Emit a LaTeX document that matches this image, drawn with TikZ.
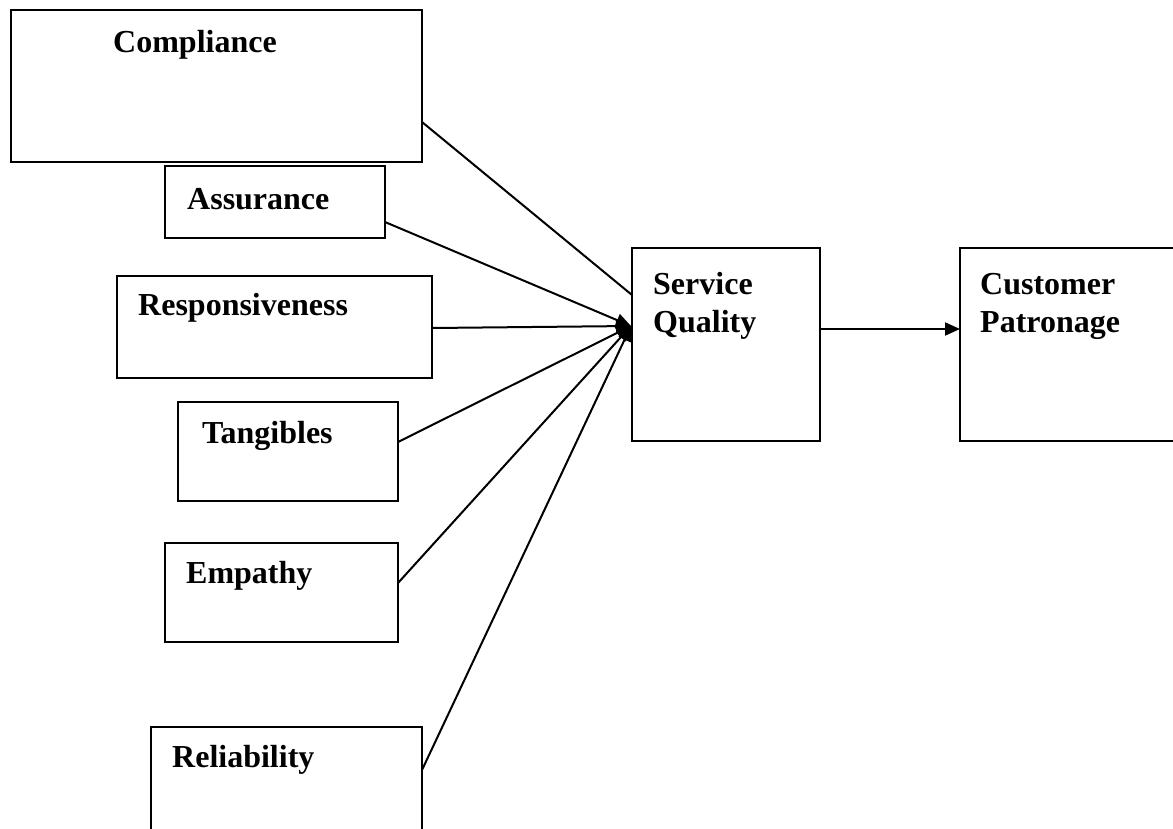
\documentclass[tikz,border=0pt]{standalone}
\usepackage{fontspec}
\setmainfont{Liberation Serif}
\usetikzlibrary{arrows.meta}
\begin{document}
\begin{tikzpicture}[x=1pt,y=-1pt,
  box/.style={draw, line width=2pt, anchor=north west, inner sep=0pt, outer sep=0pt},
  lbl/.style={anchor=base west, inner sep=0pt, font=\fontsize{32}{37}\selectfont\bfseries},
  conn/.style={line width=2pt},
  arr/.style={conn, -{Triangle[length=15pt,width=13pt]}}]
\useasboundingbox (0,0) rectangle (1173,828);
% boxes
\node[box, minimum width=411pt, minimum height=152pt] (comp) at (11,10) {};
\node[box, minimum width=220pt, minimum height=72pt] (assur) at (165,166) {};
\node[box, minimum width=315pt, minimum height=102pt] (resp) at (117,276) {};
\node[box, minimum width=220pt, minimum height=99pt] (tang) at (178,402) {};
\node[box, minimum width=233pt, minimum height=99pt] (emp) at (165,543) {};
\node[box, minimum width=271pt, minimum height=120pt] (rel) at (151,727) {};
\node[box, minimum width=188pt, minimum height=193pt] (sq) at (632,248) {};
\node[box, minimum width=230pt, minimum height=193pt] (cp) at (960,248) {};
% labels
\node[lbl] (tcomp) at (113,52) {Compliance};
\node[lbl] (tassur) at (187,209) {Assurance};
\node[lbl] (tresp) at (138,315) {Responsiveness};
\node[lbl] (ttang) at (202,443) {Tangibles};
\node[lbl] (temp) at (186,583) {Empathy};
\node[lbl] (trel) at (172,767) {Reliability};
\node[lbl] (tsq1) at (653,294) {Service};
\node[lbl] (tsq2) at (653,332) {Quality};
\node[lbl] (tcp1) at (980,294) {Customer};
\node[lbl] (tcp2) at (980,332) {Patronage};
% convergence point
\coordinate (tip) at (631,326);
% connectors
\draw[conn] ([yshift=-36pt]comp.east) -- ([yshift=49.5pt]sq.west);
\draw[arr] ([yshift=-20pt]assur.east) -- (tip);
\draw[arr] ([yshift=-1pt]resp.east) -- (tip);
\draw[arr] ([yshift=9.5pt]tang.east) -- (tip);
\draw[arr] ([yshift=9.5pt]emp.east) -- (tip);
\draw[arr] ([yshift=17pt]rel.east) -- (tip);
\draw[arr] ([yshift=15.5pt]sq.east) -- ([yshift=15.5pt]cp.west);
\end{tikzpicture}
\end{document}
